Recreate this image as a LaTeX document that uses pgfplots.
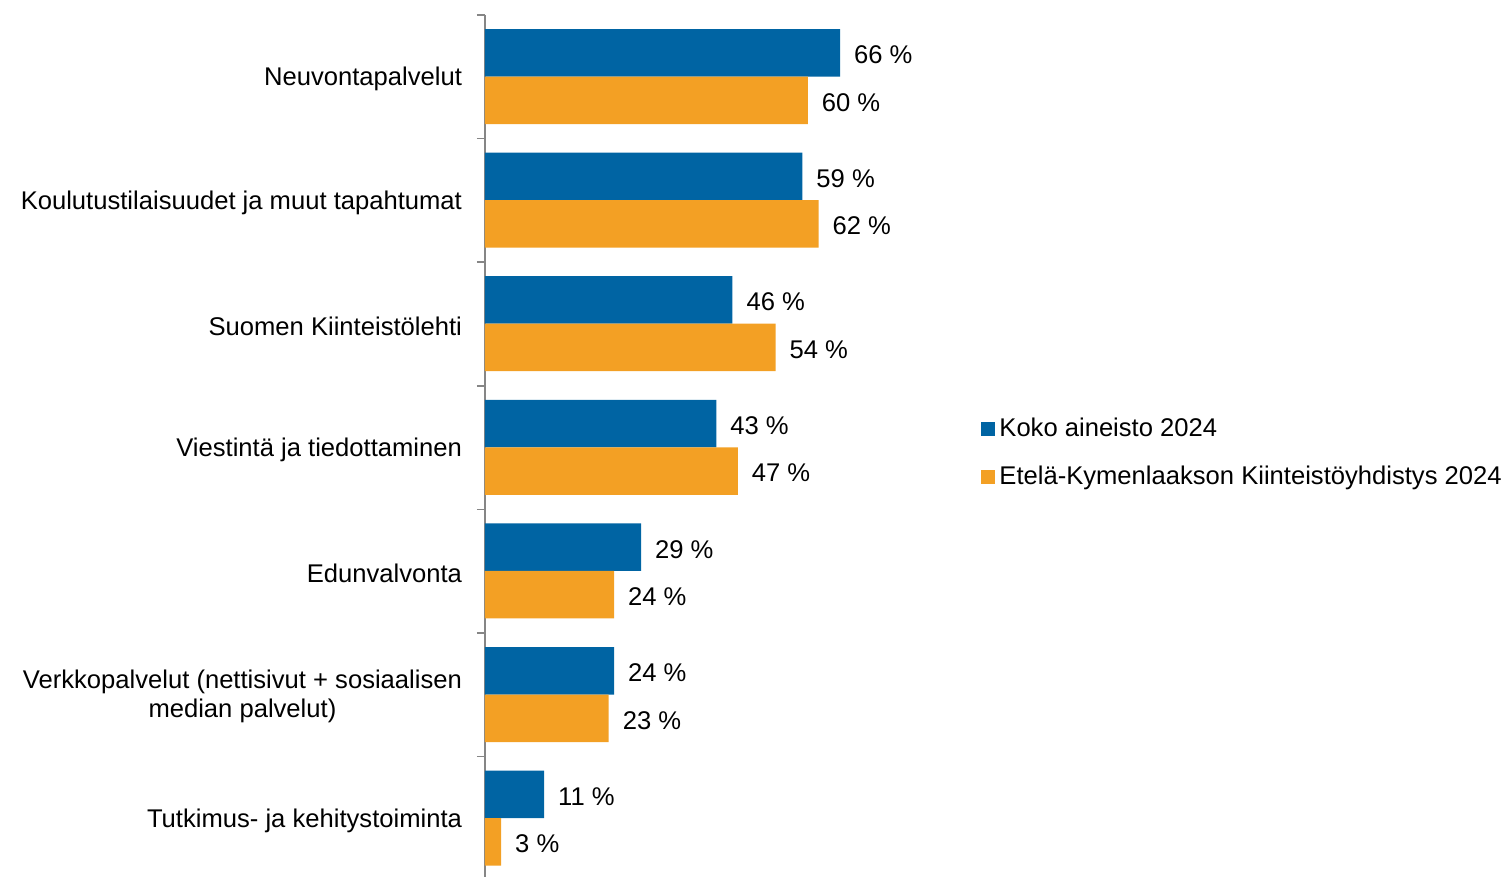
\documentclass[border=0pt]{standalone}
\usepackage{fontspec}
\setmainfont{Liberation Sans}
\usepackage{pgfplots}
\pgfplotsset{compat=1.18}
\definecolor{KokoBlue}{RGB}{0,100,163}
\definecolor{EKOrange}{RGB}{243,160,36}
\definecolor{AxisGray}{RGB}{134,134,134}
\newcommand\lab{\fontsize{12.8}{14.5}\selectfont}

\begin{document}
\begin{tikzpicture}
  \begin{axis}[
      xbar, scale only axis,
      width=269pt, height=431pt,
      xmin=0, xmax=100,
      ymin=-0.474, ymax=6.5,
      axis x line=none, xtick=\empty,
      axis y line*=left,
      y axis line style={AxisGray, line width=0.8pt, -},
      ytick={0,...,6},
      yticklabels={
        Tutkimus- ja kehitystoiminta,
        {Verkkopalvelut (nettisivut + sosiaalisen\\median palvelut)},
        Edunvalvonta,
        Viestintä ja tiedottaminen,
        Suomen Kiinteistölehti,
        Koulutustilaisuudet ja muut tapahtumat,
        Neuvontapalvelut},
      yticklabel style={font=\lab, align=center, xshift=-8pt, yshift=-1pt},
      major tick length=0pt,
      minor ytick={-0.5,0.5,...,6.5},
      minor tick length=4pt,
      tick align=outside,
      minor tick style={AxisGray, line width=0.8pt},
      bar width=23.75pt,
      /pgf/number format/assume math mode=true,
      nodes near coords={\pgfmathprintnumber{\pgfplotspointmeta}~\%},
      nodes near coords style={font=\lab, anchor=west, xshift=3.5pt, yshift=-1pt, black},
      clip=false,
      legend style={draw=none, fill=none, font=\lab, inner sep=0pt,
        at={(rel axis cs:0.922,0.492)}, anchor=west,
        row sep=9.5pt, cells={anchor=west}},
      legend image code/.code={\fill[#1] (0pt,-3.5pt) rectangle (7pt,3.5pt);},
    ]
    \coordinate (o) at (rel axis cs:0,0);
    \addplot[fill=KokoBlue, draw=none, bar shift=12pt] coordinates {
      (11,0) (24,1) (29,2) (43,3) (46,4) (59,5) (66,6)
    };
    \addlegendentry{Koko aineisto 2024}
    \addplot[fill=EKOrange, draw=none, bar shift=-11.75pt] coordinates {
      (3,0) (23,1) (24,2) (47,3) (54,4) (62,5) (60,6)
    };
    \addlegendentry{Etelä-Kymenlaakson Kiinteistöyhdistys 2024}
  \end{axis}
  \pgfresetboundingbox
  \path[use as bounding box] (o) ++(-242.5pt,0) rectangle ++(755.5pt,438.5pt);
\end{tikzpicture}
\end{document}
